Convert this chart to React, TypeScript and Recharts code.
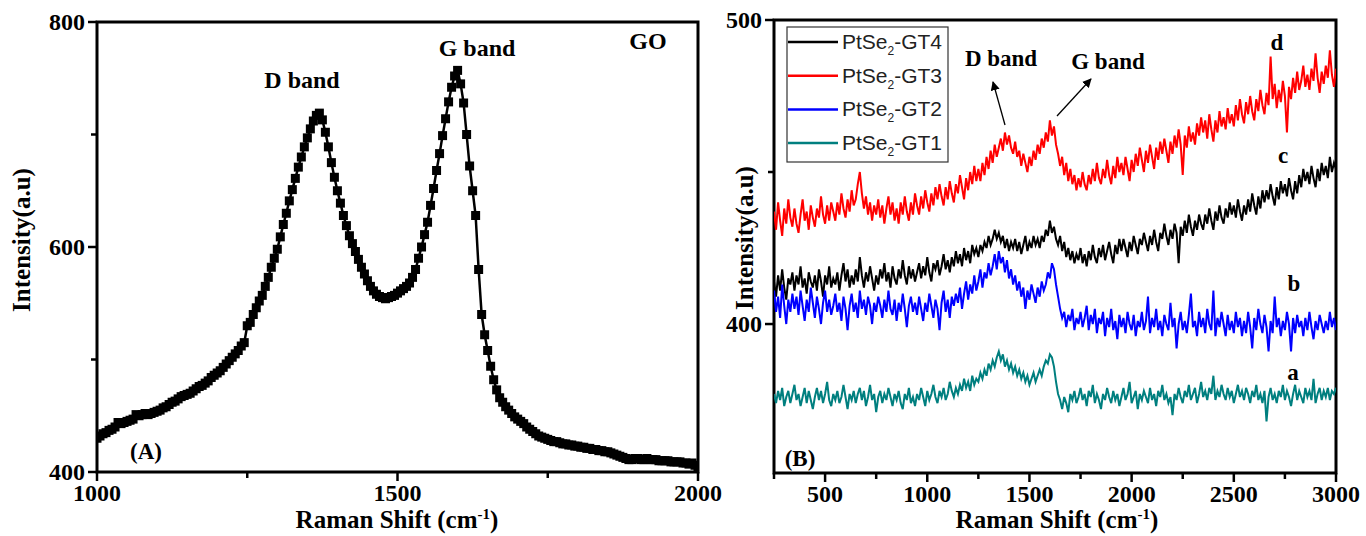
import { LineChart, Line, XAxis, YAxis, ReferenceArea } from 'recharts'

// Panel A: GO reference spectrum, one row per 100 cm-1
const SHIFT_A = [
  1000, 1005, 1010, 1015, 1020, 1025, 1030, 1035, 1040, 1045, 1050, 1055, 1060, 1065, 1070, 1075, 1080, 1085, 1090, 1095,
  1100, 1105, 1110, 1115, 1120, 1125, 1130, 1135, 1140, 1145, 1150, 1155, 1160, 1165, 1170, 1175, 1180, 1185, 1190, 1195,
  1200, 1205, 1210, 1215, 1220, 1225, 1230, 1235, 1240, 1245, 1250, 1255, 1260, 1265, 1270, 1275, 1280, 1285, 1290, 1295,
  1300, 1305, 1310, 1315, 1320, 1325, 1330, 1335, 1340, 1345, 1350, 1355, 1360, 1365, 1370, 1375, 1380, 1385, 1390, 1395,
  1400, 1405, 1410, 1415, 1420, 1425, 1430, 1435, 1440, 1445, 1450, 1455, 1460, 1465, 1470, 1475, 1480, 1485, 1490, 1495,
  1500, 1505, 1510, 1515, 1520, 1525, 1530, 1535, 1540, 1545, 1550, 1555, 1560, 1565, 1570, 1575, 1580, 1585, 1590, 1595,
  1600, 1605, 1610, 1615, 1620, 1625, 1630, 1635, 1640, 1645, 1650, 1655, 1660, 1665, 1670, 1675, 1680, 1685, 1690, 1695,
  1700, 1705, 1710, 1715, 1720, 1725, 1730, 1735, 1740, 1745, 1750, 1755, 1760, 1765, 1770, 1775, 1780, 1785, 1790, 1795,
  1800, 1805, 1810, 1815, 1820, 1825, 1830, 1835, 1840, 1845, 1850, 1855, 1860, 1865, 1870, 1875, 1880, 1885, 1890, 1895,
  1900, 1905, 1910, 1915, 1920, 1925, 1930, 1935, 1940, 1945, 1950, 1955, 1960, 1965, 1970, 1975, 1980, 1985, 1990, 1995,
  2000,
]
const GO = [
  430, 432, 434, 435, 437, 438, 440, 444, 443, 444, 445, 446, 447, 451, 450, 451, 452, 451, 452, 453,
  454, 455, 457, 458, 460, 462, 463, 465, 467, 468, 469, 470, 472, 474, 476, 477, 479, 481, 484, 486,
  488, 490, 493, 496, 499, 502, 505, 508, 512, 515, 530, 533, 540, 546, 552, 557, 565, 573, 582, 590,
  598, 609, 620, 630, 641, 651, 661, 671, 680, 689, 697, 705, 712, 717, 719, 713, 702, 689, 675, 662,
  650, 639, 628, 619, 610, 603, 596, 589, 582, 576, 570, 565, 561, 558, 556, 555, 554, 555, 556, 557,
  559, 561, 563, 565, 568, 573, 580, 590, 600, 611, 622, 637, 652, 668, 683, 699, 714, 729, 742, 752,
  757, 745, 728, 700, 672, 650, 628, 580, 540, 522, 508, 494, 482, 473, 466, 462, 458, 455, 452, 449,
  447, 445, 443, 440, 438, 436, 434, 432, 431, 430, 429, 428, 427, 427, 426, 425, 425, 424, 424, 423,
  423, 422, 422, 421, 421, 420, 420, 419, 419, 418, 418, 417, 416, 415, 414, 413, 412, 411, 411, 412,
  412, 411, 411, 412, 411, 411, 411, 410, 410, 410, 410, 409, 409, 409, 409, 408, 408, 407, 408, 406,
  404,
]

// Panel B: PtSe2-GT samples, one row per 100 cm-1
const SHIFT_B = [
  250, 260, 270, 280, 290, 300, 310, 320, 330, 340,
  350, 360, 370, 380, 390, 400, 410, 420, 430, 440,
  450, 460, 470, 480, 490, 500, 510, 520, 530, 540,
  550, 560, 570, 580, 590, 600, 610, 620, 630, 640,
  650, 660, 670, 680, 690, 700, 710, 720, 730, 740,
  750, 760, 770, 780, 790, 800, 810, 820, 830, 840,
  850, 860, 870, 880, 890, 900, 910, 920, 930, 940,
  950, 960, 970, 980, 990, 1000, 1010, 1020, 1030, 1040,
  1050, 1060, 1070, 1080, 1090, 1100, 1110, 1120, 1130, 1140,
  1150, 1160, 1170, 1180, 1190, 1200, 1210, 1220, 1230, 1240,
  1250, 1260, 1270, 1280, 1290, 1300, 1310, 1320, 1330, 1340,
  1350, 1360, 1370, 1380, 1390, 1400, 1410, 1420, 1430, 1440,
  1450, 1460, 1470, 1480, 1490, 1500, 1510, 1520, 1530, 1540,
  1550, 1560, 1570, 1580, 1590, 1600, 1610, 1620, 1630, 1640,
  1650, 1660, 1670, 1680, 1690, 1700, 1710, 1720, 1730, 1740,
  1750, 1760, 1770, 1780, 1790, 1800, 1810, 1820, 1830, 1840,
  1850, 1860, 1870, 1880, 1890, 1900, 1910, 1920, 1930, 1940,
  1950, 1960, 1970, 1980, 1990, 2000, 2010, 2020, 2030, 2040,
  2050, 2060, 2070, 2080, 2090, 2100, 2110, 2120, 2130, 2140,
  2150, 2160, 2170, 2180, 2190, 2200, 2210, 2220, 2230, 2240,
  2250, 2260, 2270, 2280, 2290, 2300, 2310, 2320, 2330, 2340,
  2350, 2360, 2370, 2380, 2390, 2400, 2410, 2420, 2430, 2440,
  2450, 2460, 2470, 2480, 2490, 2500, 2510, 2520, 2530, 2540,
  2550, 2560, 2570, 2580, 2590, 2600, 2610, 2620, 2630, 2640,
  2650, 2660, 2670, 2680, 2690, 2700, 2710, 2720, 2730, 2740,
  2750, 2760, 2770, 2780, 2790, 2800, 2810, 2820, 2830, 2840,
  2850, 2860, 2870, 2880, 2890, 2900, 2910, 2920, 2930, 2940,
  2950, 2960, 2970, 2980, 2990, 3000,
]
const GT1 = [
  377, 374, 378, 375, 379, 373, 376, 378, 374, 377,
  380, 375, 377, 373, 376, 379, 374, 378, 375, 372,
  376, 379, 375, 378, 374, 377, 381, 375, 373, 377,
  375, 378, 374, 376, 380, 376, 372, 377, 375, 378,
  374, 377, 379, 375, 378, 373, 376, 380, 375, 377,
  371, 376, 378, 374, 377, 375, 379, 376, 373, 377,
  375, 378, 374, 372, 377, 375, 379, 374, 376, 373,
  377, 375, 379, 376, 373, 378, 375, 377, 380, 376,
  374, 378, 376, 379, 375, 377, 381, 378, 376, 379,
  377, 380, 378, 382, 379, 381, 378, 383, 380, 382,
  381, 384, 382, 385, 383, 387, 385, 388, 386, 389,
  391, 388, 390, 386, 388, 385, 387, 384, 386, 383,
  385, 382, 384, 381, 383, 380, 382, 384, 381, 383,
  385, 383, 386, 388, 387, 390, 389, 386, 381, 377,
  375, 372, 376, 374, 371, 377, 375, 378, 374, 376,
  379, 375, 377, 373, 378, 376, 380, 374, 377, 375,
  372, 377, 375, 379, 376, 374, 378, 375, 377, 373,
  376, 379, 375, 377, 381, 374, 376, 378, 372, 377,
  375, 378, 376, 374, 379, 375, 377, 373, 378, 376,
  380, 375, 377, 374, 376, 370, 377, 375, 379, 376,
  374, 378, 376, 380, 375, 377, 379, 374, 377, 381,
  376, 378, 375, 379, 377, 383, 375, 378, 376, 380,
  377, 375, 379, 376, 378, 374, 377, 380, 376, 378,
  375, 379, 377, 374, 378, 376, 380, 375, 377, 374,
  378, 368, 376, 379, 375, 377, 374, 378, 376, 380,
  375, 378, 376, 373, 377, 380, 375, 378, 376, 374,
  379, 376, 378, 375, 382, 374, 377, 379, 375, 378,
  376, 379, 375, 378, 377, 379,
]
const GT2 = [
  411, 404, 409, 402, 413, 406, 400, 408, 404, 410,
  405, 409, 403, 411, 406, 401, 408, 404, 412, 407,
  402, 409, 405, 400, 407, 411, 404, 408, 403, 406,
  410, 404, 407, 401, 409, 405, 398, 406, 410, 404,
  407, 402, 411, 405, 408, 403, 409, 406, 400, 407,
  404, 409, 406, 402, 408, 404, 411, 405, 403, 408,
  401, 407, 404, 410, 405, 399, 406, 409, 404, 407,
  403, 409, 405, 401, 407, 404, 410, 406, 402, 408,
  405, 398, 407, 411, 404, 408, 402, 409, 406, 410,
  407, 412, 405, 410, 414, 408, 413, 410, 416, 411,
  414, 418, 412, 417, 415, 420, 416, 419, 423, 418,
  424, 420, 422, 417, 421, 415, 418, 413, 416, 411,
  414, 409, 412, 405, 411, 408, 413, 410, 407, 412,
  409, 414, 411, 413, 417, 415, 420, 418, 413, 409,
  405, 402, 404, 399, 403, 401, 405, 398, 402, 400,
  404, 399, 402, 406, 398, 403, 400, 405, 397, 402,
  400, 404, 396, 402, 399, 405, 398, 401, 395, 403,
  399, 402, 397, 404, 400, 398, 403, 396, 401, 399,
  404, 398, 401, 409, 397, 402, 399, 405, 398, 401,
  396, 403, 400, 398, 407, 399, 402, 392, 400, 404,
  398, 401, 397, 403, 410, 399, 401, 396, 404, 399,
  402, 397, 405, 400, 398, 411, 396, 402, 399, 404,
  400, 396, 403, 398, 401, 397, 404, 399, 402, 396,
  401, 397, 404, 399, 392, 402, 398, 405, 400, 397,
  403, 399, 391, 401, 397, 409, 399, 402, 396, 401,
  398, 404, 400, 391, 402, 397, 403, 399, 401, 396,
  402, 398, 404, 399, 395, 401, 398, 403, 400, 397,
  401, 398, 404, 399, 402, 398,
]
const GT3 = [
  437, 431, 440, 434, 429, 438, 433, 441, 435, 432,
  438, 433, 430, 436, 441, 434, 437, 431, 439, 435,
  432, 438, 435, 442, 436, 433, 439, 434, 440, 437,
  434, 440, 436, 443, 438, 435, 441, 437, 444, 439,
  441, 446, 450, 443, 438, 442, 436, 440, 434, 439,
  436, 441, 435, 439, 433, 438, 442, 436, 440, 434,
  438, 433, 440, 436, 442, 437, 434, 440, 436, 443,
  439, 436, 442, 438, 444, 440, 437, 443, 439, 445,
  441, 446, 442, 439, 445, 441, 447, 443, 440, 446,
  443, 449, 445, 441, 448, 444, 450, 446, 452, 447,
  451, 447, 453, 449, 455, 451, 457, 453, 459, 455,
  458, 461, 457, 463, 459, 462, 458, 456, 460, 455,
  457, 452, 456, 453, 450, 455, 452, 457, 454, 459,
  456, 461, 458, 463, 460, 467, 462, 465, 459, 456,
  452, 455, 449, 453, 447, 451, 446, 449, 444, 448,
  445, 450, 446, 444, 449, 446, 451, 447, 453, 448,
  446, 451, 448, 454, 449, 446, 452, 448, 455, 450,
  453, 449, 455, 451, 447, 454, 450, 456, 452, 458,
  454, 450, 457, 453, 459, 455, 451, 458, 454, 460,
  456, 461, 457, 453, 460, 456, 462, 458, 464, 459,
  449, 462, 458, 465, 460, 463, 459, 466, 462, 468,
  463, 467, 461, 469, 464, 460, 467, 463, 470, 465,
  468, 464, 471, 466, 469, 465, 472, 467, 474, 469,
  466, 473, 469, 475, 470, 467, 474, 470, 477, 472,
  469, 476, 472, 488, 474, 479, 471, 477, 473, 480,
  475, 463, 478, 474, 481, 476, 483, 477, 480, 485,
  478, 482, 477, 484, 480, 489, 481, 476, 483, 479,
  485, 481, 490, 482, 478, 484,
]
const GT4 = [
  414, 409, 416, 411, 418, 412, 408, 415, 413, 417,
  411, 416, 413, 419, 412, 415, 410, 417, 414, 412,
  416, 411, 418, 414, 409, 416, 413, 419, 412, 415,
  413, 417, 411, 416, 420, 414, 418, 412, 416, 413,
  418, 414, 422, 416, 412, 417, 414, 419, 415, 411,
  416, 413, 418, 415, 420, 414, 417, 412, 419, 415,
  413, 418, 415, 421, 416, 413, 419, 415, 418, 414,
  417, 420, 415, 419, 416, 422, 417, 414, 420, 418,
  421, 416, 419, 423, 418, 421, 417, 422, 419, 424,
  420, 423, 419, 425, 421, 424, 420, 426, 423, 425,
  422, 426, 424, 427, 425, 429, 426, 428, 431, 428,
  430, 427, 429, 425, 428, 424, 427, 425, 428, 424,
  427, 423, 426, 429, 424, 427, 425, 429, 426, 428,
  425, 429, 427, 431, 429, 434, 430, 432, 428, 426,
  429, 424, 427, 422, 425, 421, 424, 420, 423, 421,
  425, 420, 423, 419, 424, 421, 426, 422, 420, 425,
  422, 426, 421, 424, 427, 423, 420, 426, 423, 428,
  424, 428, 425, 422, 427, 424, 429, 426, 423, 428,
  426, 430, 427, 424, 429, 426, 431, 427, 424, 430,
  428, 433, 429, 426, 431, 428, 433, 430, 420, 432,
  429, 434, 430, 436, 432, 429, 434, 431, 436, 433,
  431, 436, 433, 438, 434, 431, 437, 434, 439, 435,
  433, 438, 435, 440, 436, 439, 435, 441, 437, 434,
  439, 436, 441, 437, 443, 439, 436, 442, 438, 444,
  440, 444, 441, 446, 442, 439, 445, 441, 447, 443,
  446, 442, 448, 444, 441, 447, 443, 449, 445, 451,
  447, 450, 446, 452, 448, 445, 451, 447, 453, 449,
  452, 448, 455, 450, 453, 451,
]

const SERIES_B = [
  { key: 'gt4', tag: '-GT4', color: '#000000' },
  { key: 'gt3', tag: '-GT3', color: '#ff0000' },
  { key: 'gt2', tag: '-GT2', color: '#0000ff' },
  { key: 'gt1', tag: '-GT1', color: '#007f7f' },
]

const dataA = SHIFT_A.map((x, i) => ({ x, go: GO[i] }))
const dataB = SHIFT_B.map((x, i) => ({ x, gt1: GT1[i], gt2: GT2[i], gt3: GT3[i], gt4: GT4[i] }))

const SERIF = '"Liberation Serif", "Times New Roman", serif'
const SANS = '"Liberation Sans", Arial, sans-serif'

function axisTick(labels: number[], orient: 'left' | 'bottom') {
  return (props: any) => {
    const { x, y, payload } = props
    const v = payload.value
    const major = labels.includes(v)
    const len = major ? 9 : 6
    const txt = { fontFamily: SERIF, fontWeight: 'bold' as const, fontSize: 24, fill: '#000' }
    if (orient === 'left') {
      return (
        <g>
          <line x1={x} y1={y} x2={x - len} y2={y} stroke="#000" strokeWidth={2.5} />
          {major && <text x={x - 12} y={y} dy={8} textAnchor="end" {...txt}>{v}</text>}
        </g>
      )
    }
    return (
      <g>
        <line x1={x} y1={y} x2={x} y2={y + len} stroke="#000" strokeWidth={2.5} />
        {major && <text x={x} y={y + 29} textAnchor="middle" {...txt}>{v}</text>}
      </g>
    )
  }
}

function squareDot(p: any) {
  return <rect key={p.index} x={p.cx - 4.5} y={p.cy - 4.5} width={9} height={9} fill="#000" />
}

const bold = { fontFamily: SERIF, fontWeight: 'bold' as const, fill: '#000' }

export default function App() {
  return (
    <div style={{ position: 'fixed', left: 0, top: 0, width: 1366, height: 536, background: '#fff' }}>
      <div style={{ position: 'absolute', left: 0, top: 0 }}>
        <LineChart width={740} height={536} data={dataA} margin={{ top: 22, right: 42, bottom: 34, left: 37 }}>
          <XAxis dataKey="x" type="number" domain={[1000, 2000]} ticks={[1000, 1250, 1500, 1750, 2000]}
            height={30} tickSize={0} tickMargin={0} tickLine={false} axisLine={false}
            tick={axisTick([1000, 1500, 2000], 'bottom')} allowDataOverflow />
          <YAxis type="number" domain={[400, 800]} ticks={[400, 500, 600, 700, 800]} width={60}
            tickSize={0} tickMargin={0} tickLine={false} axisLine={false}
            tick={axisTick([400, 600, 800], 'left')} allowDataOverflow />
          <ReferenceArea x1={1000} x2={2000} y1={400} y2={800} fill="none" stroke="#000" strokeWidth={3} fillOpacity={0} />
          <Line dataKey="go" type="linear" stroke="#000" strokeWidth={2.5} dot={squareDot} isAnimationActive={false} />
        </LineChart>
      </div>
      <div style={{ position: 'absolute', left: 690, top: 0 }}>
        <LineChart width={676} height={536} data={dataB} margin={{ top: 20, right: 30, bottom: 33, left: 24 }}>
          <XAxis dataKey="x" type="number" domain={[250, 3000]}
            ticks={[250, 500, 750, 1000, 1250, 1500, 1750, 2000, 2250, 2500, 2750, 3000]}
            height={30} tickSize={0} tickMargin={0} tickLine={false} axisLine={false}
            tick={axisTick([500, 1000, 1500, 2000, 2500, 3000], 'bottom')} allowDataOverflow />
          <YAxis type="number" domain={[351, 500]} ticks={[400, 450, 500]} width={60}
            tickSize={0} tickMargin={0} tickLine={false} axisLine={false}
            tick={axisTick([400, 500], 'left')} allowDataOverflow />
          <ReferenceArea x1={250} x2={3000} y1={351} y2={500} fill="none" stroke="#000" strokeWidth={3} fillOpacity={0} />
          <Line dataKey="gt1" type="linear" stroke="#007f7f" strokeWidth={2} dot={false} isAnimationActive={false} />
          <Line dataKey="gt3" type="linear" stroke="#ff0000" strokeWidth={2} dot={false} isAnimationActive={false} />
          <Line dataKey="gt4" type="linear" stroke="#000000" strokeWidth={2} dot={false} isAnimationActive={false} />
          <Line dataKey="gt2" type="linear" stroke="#0000ff" strokeWidth={2} dot={false} isAnimationActive={false} />
        </LineChart>
      </div>
      <svg width={1366} height={536} style={{ position: 'absolute', left: 0, top: 0, pointerEvents: 'none' }}>
        <defs>
          <marker id="arrowHead" viewBox="0 0 10 10" refX="9" refY="5" markerWidth="7" markerHeight="7" orient="auto">
            <path d="M0,0 L10,5 L0,10 z" fill="#000" />
          </marker>
        </defs>
        {/* panel A texts */}
        <text x={397} y={528} textAnchor="middle" fontSize={25} {...bold}>
          Raman Shift (cm<tspan dy={-9} fontSize={15}>-1</tspan><tspan dy={9}>)</tspan>
        </text>
        <text transform="translate(30,240) rotate(-90)" textAnchor="middle" fontSize={25} {...bold}>Intensity(a.u)</text>
        <text x={302} y={88} textAnchor="middle" fontSize={24} {...bold}>D band</text>
        <text x={477} y={56} textAnchor="middle" fontSize={24} {...bold}>G band</text>
        <text x={648} y={49} textAnchor="middle" fontSize={24} {...bold}>GO</text>
        <text x={146} y={459} textAnchor="middle" fontSize={23} {...bold}>(A)</text>
        {/* panel B texts */}
        <text x={1057} y={528} textAnchor="middle" fontSize={25} {...bold}>
          Raman Shift (cm<tspan dy={-9} fontSize={15}>-1</tspan><tspan dy={9}>)</tspan>
        </text>
        <text transform="translate(753,238) rotate(-90)" textAnchor="middle" fontSize={25} {...bold}>Intensity(a.u)</text>
        <text x={1001} y={66} textAnchor="middle" fontSize={23} {...bold}>D band</text>
        <text x={1108} y={69} textAnchor="middle" fontSize={23} {...bold}>G band</text>
        <line x1={1005} y1={125} x2={993} y2={82} stroke="#000" strokeWidth={1.3} markerEnd="url(#arrowHead)" />
        <line x1={1057} y1={116} x2={1091} y2={79} stroke="#000" strokeWidth={1.3} markerEnd="url(#arrowHead)" />
        <text x={1277} y={50} textAnchor="middle" fontSize={23} {...bold}>d</text>
        <text x={1283} y={163} textAnchor="middle" fontSize={23} {...bold}>c</text>
        <text x={1294} y={291} textAnchor="middle" fontSize={23} {...bold}>b</text>
        <text x={1293} y={380} textAnchor="middle" fontSize={23} {...bold}>a</text>
        <text x={800} y={466} textAnchor="middle" fontSize={23} {...bold}>(B)</text>
        {/* legend */}
        <rect x={787} y={27} width={161} height={135} fill="#fff" stroke="#333" strokeWidth={1.2} />
        {SERIES_B.map((s, i) => (
          <g key={s.key}>
            <line x1={788} x2={838} y1={42 + i * 33.7} y2={42 + i * 33.7} stroke={s.color} strokeWidth={2.5} />
            <text x={842} y={49 + i * 33.7} fontFamily={SANS} fontSize={21} fill="#222">
              PtSe<tspan dy={6} fontSize={12}>2</tspan><tspan dy={-6}>{s.tag}</tspan>
            </text>
          </g>
        ))}
      </svg>
    </div>
  )
}
